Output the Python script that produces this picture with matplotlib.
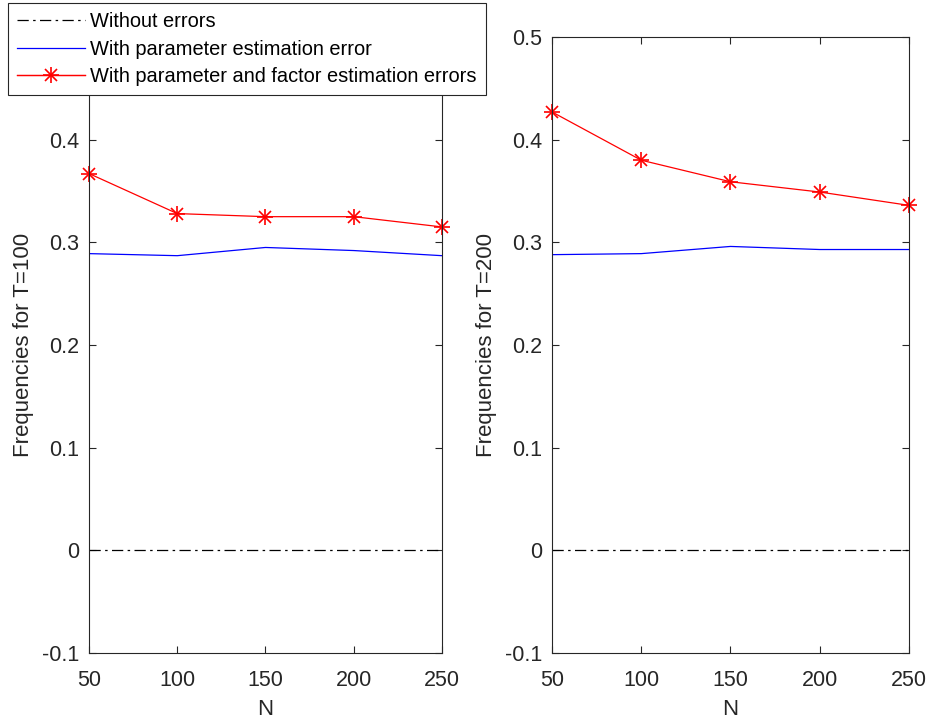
import matplotlib
matplotlib.use("Agg")
import matplotlib.pyplot as plt
from matplotlib.lines import Line2D

plt.rcParams['font.family'] = ['Liberation Sans', 'DejaVu Sans']

N = [50, 100, 150, 200, 250]
zero_T100 = [0, 0, 0, 0, 0]
param_T100 = [0.289, 0.287, 0.295, 0.292, 0.287]
both_T100 = [0.367, 0.328, 0.325, 0.325, 0.315]
zero_T200 = [0, 0, 0, 0, 0]
param_T200 = [0.288, 0.289, 0.296, 0.293, 0.293]
both_T200 = [0.427, 0.380, 0.359, 0.349, 0.336]
yticks = [-0.1, 0, 0.1, 0.2, 0.3, 0.4, 0.5]
ylabels = ["-0.1", "0", "0.1", "0.2", "0.3", "0.4", "0.5"]
labels = ["Without errors", "With parameter estimation error",
          "With parameter and factor estimation errors"]

fig = plt.figure(figsize=(9.29, 7.22), dpi=100)
W, H = 929, 722
axL = fig.add_axes([89 / W, 1 - 653 / H, (442 - 89) / W, (653 - 37) / H])
axR = fig.add_axes([552 / W, 1 - 653 / H, (909 - 552) / W, (653 - 37) / H])

gray = '#262626'
dashdot = (0, (9, 3.5, 2, 3.5))
for ax, z, p, b, tl in [(axL, zero_T100, param_T100, both_T100, "Frequencies for T=100"),
                        (axR, zero_T200, param_T200, both_T200, "Frequencies for T=200")]:
    ax.plot(N, z, color='black', linestyle=dashdot, linewidth=0.9)
    ax.plot(N, p, color='blue', linewidth=0.9)
    ax.plot(N, b, color='red', linewidth=0.9)
    ax.plot(N, b, color='red', linestyle='none', marker='+', markersize=12,
            markeredgewidth=1.2, clip_on=False)
    ax.plot(N, b, color='red', linestyle='none', marker='x', markersize=9,
            markeredgewidth=1.2, clip_on=False)
    ax.set_xlim(50, 250)
    ax.set_ylim(-0.1, 0.5)
    ax.set_xticks(N)
    ax.set_yticks(yticks)
    ax.set_yticklabels(ylabels)
    ax.tick_params(direction='in', top=True, right=True, labelsize=15.5,
                   color=gray, labelcolor=gray, length=5, width=0.8)
    ax.tick_params(axis='x', pad=12)
    ax.tick_params(axis='y', pad=7)
    for s in ax.spines.values():
        s.set_color(gray)
        s.set_linewidth(0.8)
    ax.set_xlabel("N", fontsize=16, color=gray, labelpad=6)
    ax.set_ylabel(tl, fontsize=16, color=gray, labelpad=6)

mk = Line2D([], [], color='red', linewidth=0.9, marker='+', markersize=12,
            markeredgewidth=1.2)
mk2 = Line2D([], [], color='red', linewidth=0.9, marker='x', markersize=9,
             markeredgewidth=1.2)
handles = [Line2D([], [], color='black', linestyle=dashdot, linewidth=0.9),
           Line2D([], [], color='blue', linewidth=0.9),
           (mk, mk2)]
leg = fig.legend(handles, labels, loc='upper left', bbox_to_anchor=(8 / W, 1 - 3 / H),
                 fontsize=14.4, frameon=True, fancybox=False, handlelength=3.4,
                 handletextpad=0.25, borderpad=0.45, labelspacing=0.43,
                 borderaxespad=0)
leg.get_frame().set_edgecolor(gray)
leg.get_frame().set_linewidth(0.8)
leg.get_frame().set_alpha(1)

fig.savefig("out.png", dpi=100)
